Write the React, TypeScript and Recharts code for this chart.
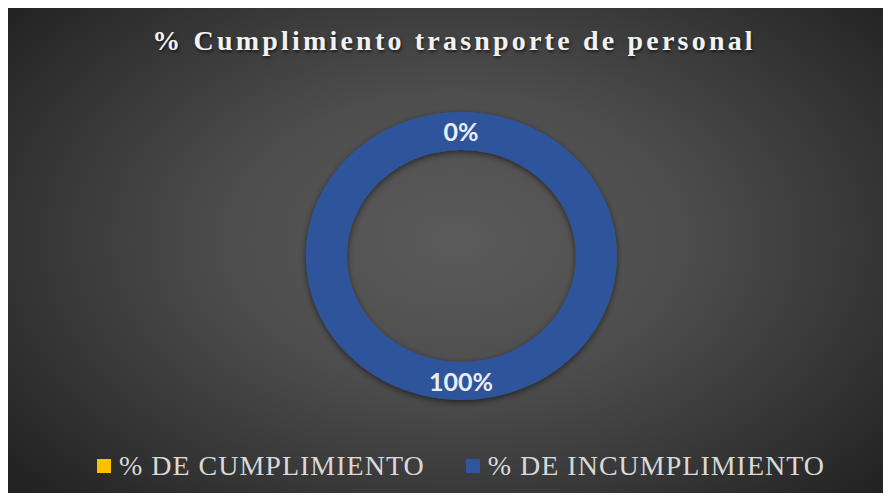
import { PieChart, Pie, Cell, Legend } from 'recharts';

const categories = ['% DE CUMPLIMIENTO', '% DE INCUMPLIMIENTO'];
const values = [0, 100];
const colors = ['#ffc000', '#2f559b'];

const chartData = categories.map((name, i) => ({ name, value: values[i] }));

const RADIAN = Math.PI / 180;
const PIE_CX = 448;
const PIE_CY = 245;

function RingLabel(props: any) {
  const { cx, cy, midAngle, innerRadius, outerRadius, percent } = props;
  const r = (innerRadius + outerRadius) / 2;
  const x = cx + r * Math.cos(-midAngle * RADIAN);
  const y = cy + r * Math.sin(-midAngle * RADIAN);
  return (
    <text
      x={x}
      y={y}
      fill="#e9eef6"
      textAnchor="middle"
      dominantBaseline="central"
      fontFamily="Lato, 'Open Sans', sans-serif"
      fontWeight={700}
      fontSize={25}
    >
      {`${Math.round(percent * 100)}%`}
    </text>
  );
}

function LegendContent(props: any) {
  const { payload } = props;
  return (
    <div
      style={{
        display: 'flex',
        justifyContent: 'center',
        paddingLeft: 30,
        gap: 41,
        fontFamily: "'Liberation Serif', 'Times New Roman', serif",
        fontSize: 28,
        letterSpacing: 1,
        color: '#d9d9d9',
      }}
    >
      {(payload || []).map((entry: any) => (
        <div key={entry.value} style={{ display: 'flex', alignItems: 'center' }}>
          <span
            style={{
              display: 'inline-block',
              width: 14,
              height: 14,
              background: entry.color,
              marginRight: 8,
            }}
          />
          <span>{entry.value}</span>
        </div>
      ))}
    </div>
  );
}

export default function App() {
  const width = 876;
  const height = 487;
  return (
    <div
      style={{
        position: 'relative',
        width,
        height,
        marginTop: -2,
        background:
          'radial-gradient(ellipse 65% 75% at 51% 48%, #5b5b5b 0%, #4d4d4d 40%, #353535 75%, #232323 100%)',
      }}
    >
      {/* the ring in the original is slightly wider than tall */}
      <style>{`.recharts-pie-sector { transform: scaleX(1.08); transform-origin: ${PIE_CX}px ${PIE_CY}px; }`}</style>
      <div
        style={{
          position: 'absolute',
          top: 20,
          left: 8,
          width,
          textAlign: 'center',
          fontFamily: "'Liberation Serif', 'Times New Roman', serif",
          fontWeight: 700,
          fontSize: 28,
          lineHeight: '30px',
          letterSpacing: 3.2,
          color: '#f2f2f2',
          textShadow: '1px 2px 3px rgba(0,0,0,0.6)',
        }}
      >
        % Cumplimiento trasnporte de personal
      </div>
      <PieChart width={width} height={height} style={{ position: 'absolute', top: 0, left: 0 }}>
        <defs>
          <filter id="ringShadow" x="-20%" y="-20%" width="140%" height="140%">
            <feDropShadow dx="0" dy="2" stdDeviation="3" floodColor="#000" floodOpacity="0.55" />
          </filter>
        </defs>
        <Pie
          data={chartData}
          dataKey="value"
          nameKey="name"
          cx={PIE_CX}
          cy={PIE_CY}
          innerRadius={106}
          outerRadius={144}
          startAngle={90}
          endAngle={-270}
          stroke="none"
          label={RingLabel}
          labelLine={false}
          isAnimationActive={false}
        >
          {chartData.map((d, i) => (
            <Cell key={d.name} fill={colors[i]} filter="url(#ringShadow)" />
          ))}
        </Pie>
        <Legend
          content={LegendContent}
          wrapperStyle={{ position: 'absolute', left: 0, top: 444, width }}
        />
      </PieChart>
    </div>
  );
}
